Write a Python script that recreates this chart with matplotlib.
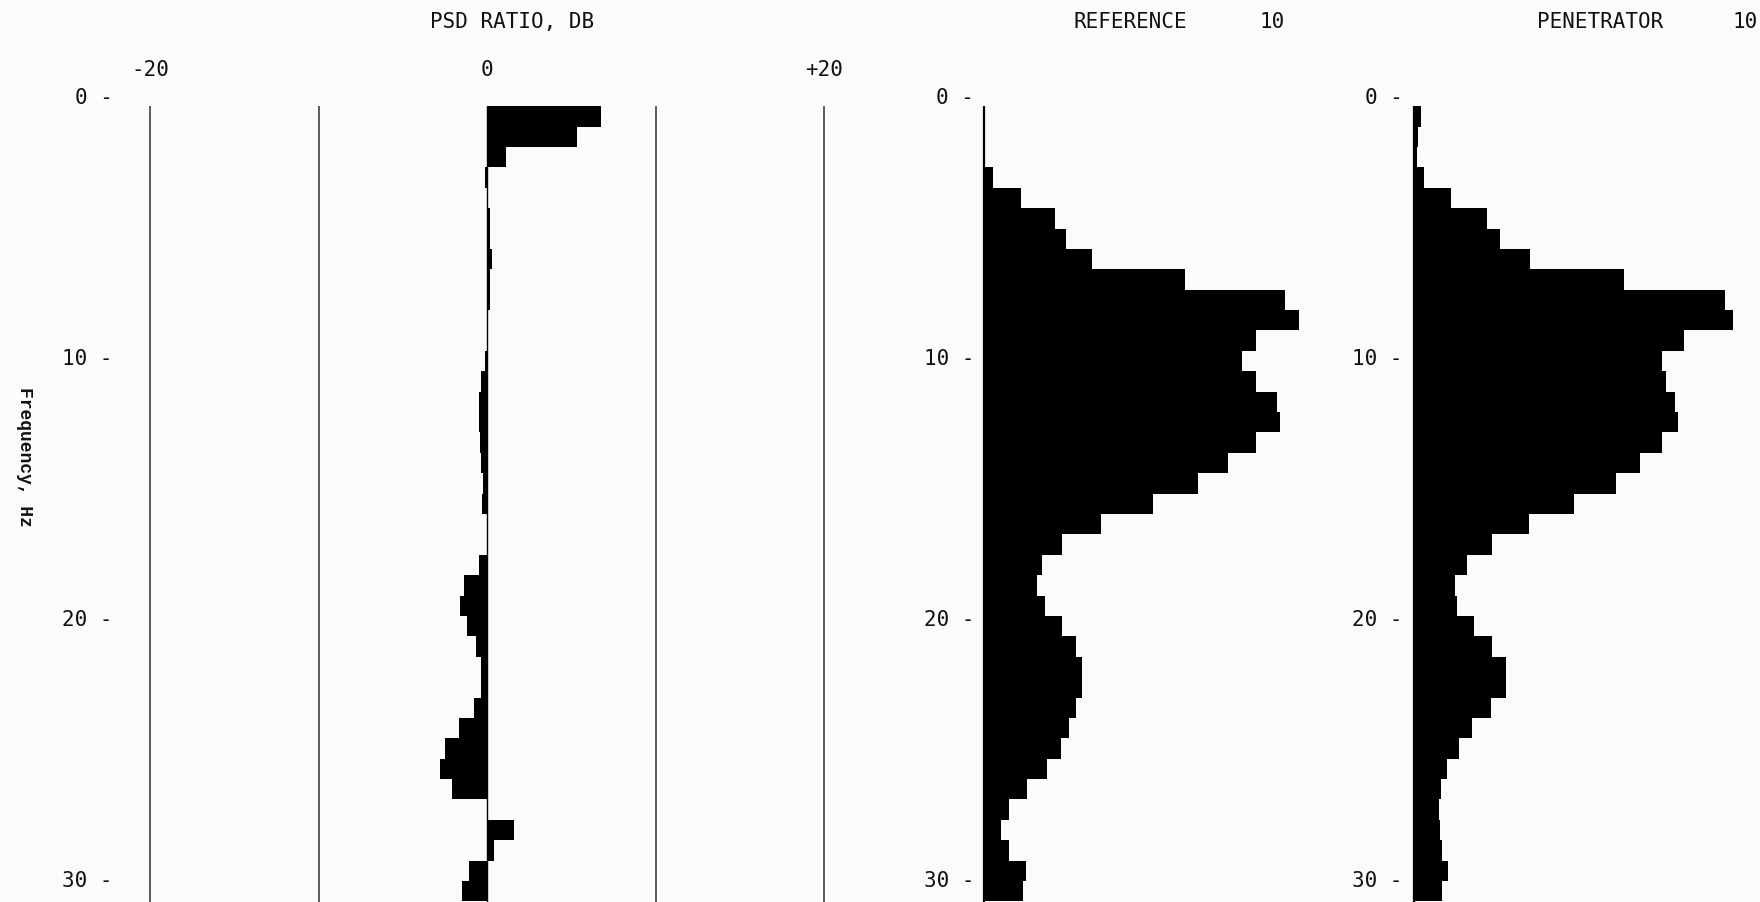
import numpy as np
import matplotlib
matplotlib.use("Agg")
import matplotlib.pyplot as plt

# ---------------- data ----------------
bin_width_hz = 0.78125
n_bins = 39
freq_hz = np.arange(1, n_bins + 1) * bin_width_hz  # bin centres

psd_ratio_db = [6.79, 5.36, 1.11, -0.13, 0.0, 0.16, 0.16, 0.30, 0.20, 0.16,
                0.05, 0.0, -0.13, -0.34, -0.47, -0.47, -0.43, -0.34, -0.26, -0.27,
                0.0, 0.0, -0.49, -1.39, -1.58, -1.17, -0.67, -0.38, -0.34, -0.79,
                -1.68, -2.49, -2.81, -2.08, 0.0, 1.60, 0.40, -1.09, -1.50]

reference_psd = [0.0, 0.0, 0.0, 0.28, 1.16, 2.22, 2.56, 3.38, 6.28, 9.41,
                 9.84, 8.50, 8.06, 8.50, 9.16, 9.25, 8.50, 7.63, 6.69, 5.28,
                 3.66, 2.44, 1.81, 1.66, 1.91, 2.44, 2.88, 3.06, 3.06, 2.88,
                 2.66, 2.41, 1.97, 1.34, 0.78, 0.53, 0.78, 1.31, 1.22]

penetrator_psd = [0.22, 0.12, 0.10, 0.31, 1.16, 2.27, 2.68, 3.63, 6.56, 9.71,
                  9.98, 8.44, 7.76, 7.87, 8.16, 8.26, 7.76, 7.06, 6.30, 5.00,
                  3.59, 2.45, 1.67, 1.27, 1.35, 1.88, 2.45, 2.87, 2.87, 2.40,
                  1.82, 1.41, 1.04, 0.83, 0.78, 0.81, 0.89, 1.06, 0.89]

freq_ticks = [0, 10, 20, 30]
freq_tick_labels = ["0 -", "10 -", "20 -", "30 -"]
ratio_ticks = [-20, 0, 20]
ratio_tick_labels = ["-20", "0", "+20"]
ratio_gridlines = [-20, -10, 10, 20]

# ---------------- layout helpers ----------------
W, H = 1760, 902
BG = "#fbfbfb"
INK = "#111111"
MONO = ["DejaVu Sans Mono"]
FS = 15

fig = plt.figure(figsize=(W / 100, H / 100), dpi=100, facecolor=BG)


def rect(x0, x1, ytop, ybot):
    return [x0 / W, 1 - ybot / H, (x1 - x0) / W, (ybot - ytop) / H]


f_top = (83 - 96) / 26.1
f_bot = (902 - 96) / 26.1
first_edge = bin_width_hz / 2


def style(ax, pad):
    ax.set_facecolor(BG)
    for s in ax.spines.values():
        s.set_visible(False)
    ax.set_ylim(f_bot, f_top)
    ax.set_yticks(freq_ticks)
    ax.set_yticklabels(freq_tick_labels, family=MONO, fontsize=FS, color=INK)
    ax.tick_params(axis="y", length=0, pad=pad)


# ---- panel 1 : PSD ratio ----
ax1 = fig.add_axes(rect(150, 824, 83, 902))
style(ax1, 27)
ax1.set_xlim(-20, 20)
ax1.xaxis.tick_top()
ax1.set_xticks(ratio_ticks)
ax1.set_xticklabels(ratio_tick_labels, family=MONO, fontsize=FS, color=INK)
ax1.tick_params(axis="x", length=0, pad=2)
ax1.vlines(ratio_gridlines, first_edge, f_bot, color="#303030", lw=1.1,
           clip_on=False)
ax1.vlines(0, first_edge, f_bot, color="black", lw=1.0)
ax1.barh(freq_hz, psd_ratio_db, height=bin_width_hz, left=0,
         color="black", linewidth=0)

# ---- panel 2 : reference ----
ax2 = fig.add_axes(rect(984, 1340, 83, 902))
style(ax2, 7)
ax2.set_xlim(0, (1340 - 984) / 32)
ax2.set_xticks([])
ax2.barh(freq_hz, reference_psd, height=bin_width_hz, left=0,
         color="black", linewidth=0)
ax2.vlines(0, first_edge, f_bot, color="black", lw=1.6, clip_on=False)

# ---- panel 3 : penetrator ----
ax3 = fig.add_axes(rect(1414, 1760, 83, 902))
style(ax3, 8)
ax3.set_xlim(0, (1760 - 1414) / 32)
ax3.set_xticks([])
ax3.barh(freq_hz, penetrator_psd, height=bin_width_hz, left=0,
         color="black", linewidth=0)
ax3.vlines(0, first_edge, f_bot, color="black", lw=1.6, clip_on=False)

# ---- headers ----
hy = 1 - 22 / H
fig.text(512 / W, hy, "PSD RATIO, DB", ha="center", va="center",
         family=MONO, fontsize=FS, color=INK)
fig.text(1130 / W, hy, "REFERENCE", ha="center", va="center",
         family=MONO, fontsize=FS, color=INK)
fig.text(1272 / W, hy, "10", ha="center", va="center",
         family=MONO, fontsize=FS, color=INK)
fig.text(1600 / W, hy, "PENETRATOR", ha="center", va="center",
         family=MONO, fontsize=FS, color=INK)
fig.text(1745 / W, hy, "10", ha="center", va="center",
         family=MONO, fontsize=FS, color=INK)

fig.text(24 / W, 1 - 457 / H, "Frequency, Hz", rotation=-90,
         ha="center", va="center", family=["Liberation Mono"],
         fontweight="bold", fontsize=13, color=INK)

fig.savefig("out.png", dpi=100, facecolor=BG)
